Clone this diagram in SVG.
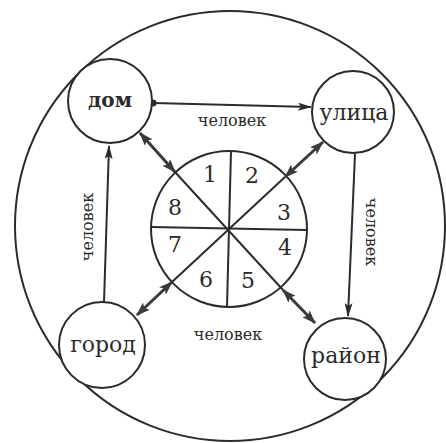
<svg xmlns="http://www.w3.org/2000/svg" width="446" height="443" viewBox="0 0 446 443">
<style>
.c{fill:#fff;stroke:#2b2b2b;stroke-width:2}
.l{stroke:#2b2b2b;stroke-width:2;fill:none}
.dl{stroke:#3a3a3a;stroke-width:3;fill:none}
.t{font-family:"DejaVu Serif","Liberation Serif",serif;fill:#2b2b2b;text-anchor:middle}
.n{font-size:22px}
.lab{font-size:16px}
.num{font-size:22px}
</style>
<defs>
<marker id="ah" viewBox="0 0 14 8" refX="13" refY="4" markerWidth="14" markerHeight="8" markerUnits="userSpaceOnUse" orient="auto">
<path d="M0,0 L14,4 L0,8 L3,4 Z" fill="#2b2b2b"/>
</marker>
<marker id="dh" viewBox="0 0 14 10" refX="13" refY="5" markerWidth="14" markerHeight="10" markerUnits="userSpaceOnUse" orient="auto-start-reverse">
<path d="M0,0 L14,5 L0,10 L3,5 Z" fill="#3a3a3a"/>
</marker>
<marker id="dot" viewBox="0 0 8 8" refX="4" refY="4" markerWidth="8" markerHeight="8" markerUnits="userSpaceOnUse">
<circle cx="4" cy="4" r="3.5" fill="#2b2b2b"/>
</marker>
</defs>
<rect width="446" height="443" fill="#fff"/>
<circle class="c" cx="230" cy="226" r="215"/>
<g id="wheel">
<circle class="c" cx="229" cy="229" r="78"/>
<line class="l" x1="231" y1="151" x2="227" y2="307"/>
<line class="l" x1="151" y1="227" x2="307" y2="230"/>
<line class="l" x1="175" y1="172" x2="283" y2="290"/>
<line class="l" x1="285" y1="177" x2="172" y2="282"/>
<text class="t num" x="210" y="182">1</text>
<text class="t num" x="252" y="183">2</text>
<text class="t num" x="284" y="220">3</text>
<text class="t num" x="285" y="255">4</text>
<text class="t num" x="248" y="288">5</text>
<text class="t num" x="206" y="287">6</text>
<text class="t num" x="175" y="252">7</text>
<text class="t num" x="175" y="215">8</text>
</g>
<g id="connectors">
<line class="l" x1="153" y1="103" x2="311" y2="107" marker-start="url(#dot)" marker-end="url(#ah)"/>
<line class="l" x1="355" y1="154" x2="348" y2="316" marker-end="url(#ah)"/>
<line class="l" x1="104" y1="302" x2="109" y2="146" marker-end="url(#ah)"/>
<line class="dl" x1="175" y1="172" x2="140" y2="133" marker-start="url(#dh)" marker-end="url(#dh)"/>
<line class="dl" x1="285" y1="177" x2="323" y2="142" marker-start="url(#dh)" marker-end="url(#dh)"/>
<line class="dl" x1="172" y1="282" x2="137" y2="315" marker-start="url(#dh)" marker-end="url(#dh)"/>
<line class="dl" x1="283" y1="290" x2="315" y2="323" marker-start="url(#dh)" marker-end="url(#dh)"/>
<text class="t lab" x="232" y="126">человек</text>
<text class="t lab" x="228" y="340">человек</text>
<text class="t lab" transform="translate(93,227) rotate(-90)">человек</text>
<text class="t lab" transform="translate(366,232) rotate(90)">человек</text>
</g>
<g id="dom">
<circle class="c" cx="110" cy="101" r="42"/>
<text class="t n" x="110" y="107" style="font-size:20px;font-weight:bold">дом</text>
</g>
<g id="ulitsa">
<circle class="c" cx="353" cy="112" r="41"/>
<text class="t n" x="354" y="120">улица</text>
</g>
<g id="gorod">
<circle class="c" cx="102" cy="345" r="43"/>
<text class="t n" x="103" y="352">город</text>
</g>
<g id="rayon">
<circle class="c" cx="345" cy="359" r="41"/>
<text class="t n" x="346" y="363">район</text>
</g>
</svg>
